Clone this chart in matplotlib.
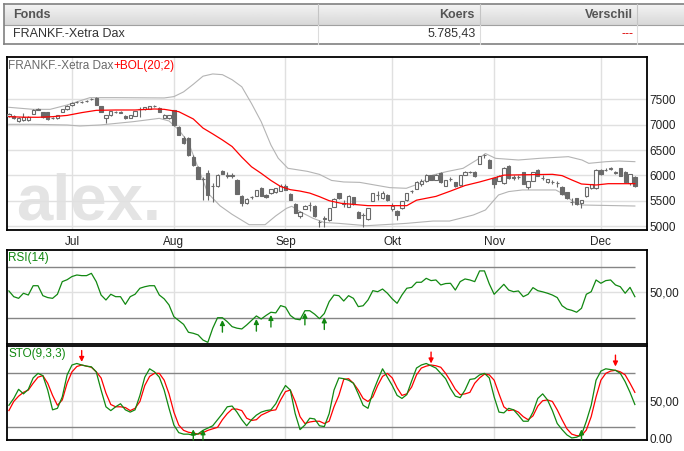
import numpy as np
import matplotlib.pyplot as plt

plt.rcParams['font.family'] = ['Liberation Sans', 'DejaVu Sans']

W, H = 684, 451

# trading day index: 0 = 14 Jun 2011 ... 129 = 12 Dec 2011
month_pos = [13, 34, 57, 79, 100, 122]
month_labels = ['Jul', 'Aug', 'Sep', 'Okt', 'Nov', 'Dec']
price_ticks = [5000, 5500, 6000, 6500, 7000, 7500]

# DAX daily candles
opens = [7165, 7173, 7075, 7090, 7095, 7215, 7300, 7245, 7245, 7135,
         7125, 7260, 7310, 7390, 7450, 7452, 7460, 7505, 7535, 7375,
         7125, 7190, 7255, 7242, 7180, 7135, 7180, 7305, 7310, 7315,
         7365, 7330, 7140, 7130, 7290, 6960, 6745, 6730, 6370, 6170,
         5920, 6050, 5790, 5790, 6094, 5990, 5990, 5910, 5600, 5455,
         5565, 5600, 5760, 5620, 5650, 5670, 5700, 5800, 5640, 5440,
         5200, 5340, 5410, 5400, 5075, 5145, 5119, 5382, 5646, 5440,
         5382, 5567, 5283, 5210, 5138, 5501, 5605, 5547, 5613, 5336,
         5296, 5349, 5514, 5685, 5738, 5837, 5883, 6001, 5916, 6048,
         5797, 5925, 5864, 5804, 6015, 6065, 6068, 6233, 6395, 6304,
         5942, 5890, 5843, 6192, 5950, 5970, 6061, 5777, 5890, 6107,
         5950, 5876, 5870, 5840, 5777, 5665, 5478, 5547, 5448, 5593,
         5745, 5745, 6107, 6100, 6135, 6055, 6140, 6074, 5850, 5975]
highs = [7225, 7185, 7150, 7225, 7170, 7310, 7325, 7260, 7255, 7160,
         7200, 7320, 7385, 7450, 7470, 7475, 7480, 7525, 7540, 7380,
         7195, 7280, 7275, 7265, 7195, 7200, 7275, 7345, 7360, 7375,
         7385, 7345, 7210, 7200, 7300, 6975, 6770, 6750, 6400, 6185,
         5960, 6100, 5850, 6030, 6110, 6070, 6050, 5930, 5620, 5560,
         5600, 5720, 5780, 5640, 5740, 5760, 5830, 5830, 5650, 5450,
         5290, 5420, 5480, 5420, 5110, 5190, 5360, 5545, 5660, 5514,
         5610, 5580, 5295, 5260, 5360, 5650, 5690, 5690, 5625, 5448,
         5310, 5500, 5660, 5720, 5880, 5930, 6025, 6010, 6025, 6060,
         5910, 5970, 5875, 6010, 6080, 6090, 6080, 6390, 6430, 6315,
         5955, 6005, 6165, 6205, 6000, 6010, 6075, 5890, 6075, 6120,
         6000, 5935, 5910, 5880, 5790, 5680, 5560, 5560, 5520, 5770,
         5830, 6120, 6120, 6140, 6170, 6090, 6150, 6085, 6030, 5985]
lows = [7150, 7110, 7060, 7075, 7080, 7205, 7285, 7140, 7100, 7115,
        7110, 7250, 7300, 7380, 7440, 7440, 7450, 7495, 7395, 7255,
        7030, 7180, 7240, 7230, 7120, 7125, 7170, 7150, 7300, 7305,
        7350, 7255, 7130, 7110, 6980, 6790, 6620, 6390, 6190, 5920,
        5515, 5515, 5480, 5780, 6020, 5940, 5940, 5630, 5400, 5440,
        5540, 5590, 5590, 5560, 5640, 5660, 5690, 5710, 5510, 5250,
        5160, 5330, 5290, 5180, 4990, 4990, 5100, 5370, 5530, 5382,
        5370, 5420, 5155, 4990, 5125, 5490, 5515, 5535, 5500, 5290,
        5119, 5335, 5500, 5650, 5725, 5800, 5870, 5905, 5905, 5855,
        5785, 5880, 5775, 5795, 6005, 6045, 5970, 6220, 6350, 6140,
        5760, 5880, 5830, 5930, 5900, 5930, 5820, 5740, 5880, 5985,
        5900, 5840, 5830, 5780, 5615, 5535, 5420, 5420, 5360, 5580,
        5730, 5735, 6010, 6080, 6110, 6030, 5985, 5860, 5810, 5780]
closes = [7207, 7127, 7140, 7155, 7160, 7292, 7310, 7160, 7115, 7140,
          7190, 7310, 7375, 7440, 7455, 7456, 7465, 7510, 7400, 7260,
          7190, 7270, 7262, 7250, 7127, 7190, 7265, 7315, 7355, 7370,
          7372, 7260, 7200, 7190, 7000, 6800, 6635, 6405, 6205, 5930,
          5935, 5620, 5800, 6015, 6028, 6015, 6010, 5640, 5460, 5530,
          5572, 5710, 5600, 5570, 5730, 5750, 5800, 5720, 5520, 5260,
          5270, 5400, 5415, 5190, 5080, 5150, 5349, 5534, 5547, 5450,
          5593, 5428, 5165, 5220, 5349, 5646, 5615, 5646, 5514, 5402,
          5217, 5494, 5646, 5695, 5870, 5883, 6015, 5916, 6015, 5864,
          5903, 5935, 5784, 6001, 6068, 6070, 5982, 6378, 6400, 6153,
          5830, 5996, 6153, 5942, 5960, 5975, 5830, 5883, 6061, 5995,
          5955, 5922, 5876, 5843, 5626, 5547, 5481, 5435, 5514, 5764,
          5823, 6107, 6021, 6107, 6140, 6061, 5995, 5876, 6021, 5785]

# Bollinger (20;2) middle and bands, read at selected days
ma_days = [0, 3, 6, 9, 12, 15, 18, 22, 26, 30, 32, 35, 38, 40, 42, 44, 46, 48,
           50, 52, 54, 56, 58, 60, 62, 64, 66, 68.5, 74, 82, 84, 88, 91, 94,
           97, 100, 102, 108, 112, 114, 116, 118, 121, 123.5, 129]
ma_vals = [7160, 7150, 7148, 7160, 7185, 7240, 7285, 7292, 7292, 7312, 7305,
           7259, 7115, 6935, 6820, 6700, 6570, 6360, 6170, 6040, 5900, 5780,
           5718, 5690, 5650, 5580, 5500, 5448, 5402, 5402, 5510, 5585, 5690,
           5800, 5870, 5950, 6005, 6015, 6021, 5995, 5910, 5830, 5810, 5836,
           5836]
upper_days = [0, 5, 8.5, 12, 16.7, 22, 32, 34, 36, 38, 40, 42, 44, 46, 48, 50,
              52, 54, 55.5, 57.5, 61.5, 64, 66.5, 69, 72.3, 78.5, 81.9, 84.7,
              87.4, 90.2, 93.6, 96.4, 98.2, 100.3, 105, 109.4, 115.3, 118.1,
              119.5, 123.1, 125.7, 129]
upper_vals = [7345, 7305, 7305, 7391, 7536, 7536, 7530, 7556, 7650, 7800,
              7960, 8004, 7990, 7890, 7750, 7420, 7060, 6600, 6340, 6140,
              6080, 6020, 5900, 5870, 5862, 5758, 5745, 5843, 6008, 6074,
              6140, 6304, 6432, 6337, 6304, 6337, 6370, 6304, 6238, 6271,
              6284, 6271]
lower_days = [0, 5, 12, 14.6, 18.8, 25.6, 31, 33, 35, 37, 39, 41, 43.5, 46,
              49.5, 52.8, 55, 57.2, 58.3, 60, 62.7, 65, 68, 73.7, 81.9, 87.4,
              90.8, 95.7, 98.2, 100.9, 103, 105.8, 112.7, 114, 116.8, 118.1,
              129]
lower_vals = [7009, 7009, 6996, 6976, 6996, 7061, 7127, 7075, 6900, 6650,
              6150, 5650, 5400, 5230, 5026, 5026, 5200, 5349, 5390, 5283,
              5151, 5070, 5052, 5006, 5052, 5098, 5098, 5217, 5316, 5613,
              5680, 5712, 5712, 5645, 5448, 5415, 5395]

# RSI(14), one value per day
rsi = [51.2, 46.7, 45.4, 49.4, 48.0, 55.3, 55.3, 47.5, 46.0, 45.4,
       48.6, 58.5, 60.0, 62.5, 63.7, 63.2, 63.2, 65.0, 58.5, 48.0,
       44.1, 48.6, 46.7, 46.7, 40.7, 46.7, 48.6, 53.3, 54.5, 55.3,
       55.3, 48.0, 45.0, 40.2, 31.0, 28.0, 25.0, 18.8, 18.0, 16.7,
       12.7, 10.9, 21.9, 30.2, 30.2, 27.1, 23.2, 22.0, 21.4, 24.5,
       28.0, 31.6, 29.2, 32.0, 34.5, 34.0, 39.7, 38.5, 32.0, 29.2,
       28.6, 35.7, 35.7, 33.0, 29.5, 33.5, 42.8, 48.0, 47.5, 43.3,
       47.5, 45.4, 38.9, 39.6, 44.1, 51.4, 50.6, 52.7, 49.4, 45.0,
       41.5, 48.0, 53.3, 54.0, 58.0, 58.0, 61.1, 59.3, 59.8, 55.9,
       57.0, 57.2, 51.9, 58.5, 60.6, 59.8, 58.5, 66.9, 66.9, 56.7,
       48.6, 52.5, 56.4, 51.9, 50.6, 51.2, 46.7, 48.6, 53.8, 51.4,
       50.5, 49.4, 48.0, 46.0, 39.6, 37.0, 36.0, 34.5, 37.6, 48.6,
       50.6, 59.8, 57.2, 59.3, 59.8, 55.9, 54.5, 49.4, 54.0, 46.7]
rsi_buy_days = [44, 51, 54, 61, 65]
rsi_buy_tips = [28.4, 29.2, 32.4, 34.1, 30.5]

# STO(9,3,3): %K (green) and %D (red)
sto_k = [44, 53, 65, 59, 65, 80, 86, 83, 64, 38,
         40, 55, 84, 97, 99, 97, 95.5, 94.6, 88, 64,
         42, 37, 42, 46, 38, 35, 38, 57, 81, 92,
         88, 81, 64, 40, 18, 8, 6, 6, 4.5, 6.5,
         11, 14, 17, 25, 33, 42, 43, 35, 25, 17,
         25, 31, 35, 37, 38, 46, 59, 70, 64, 33,
         12, 18, 27, 26, 17, 16, 33, 64, 80, 79,
         77, 73, 59, 44, 40, 61, 77, 92, 81, 70,
         57, 53, 58, 76, 93, 97, 99, 96, 93, 86,
         79, 66, 56, 54, 64, 78, 79, 84, 86, 80,
         55, 35, 34, 40, 38, 31, 23, 23, 35, 53,
         59, 51, 37, 20, 12, 5, 1, 2, 5, 23,
         44, 77, 89, 92, 91, 90, 86, 75, 61, 45]
sto_d = [37, 49, 56, 61, 64, 73, 81, 83, 73, 57,
         44, 51, 73, 88, 95, 97, 95.5, 94, 88, 80,
         60, 45, 42, 42, 41, 37, 40, 49, 70, 82,
         86, 86, 77, 59, 35, 18, 11, 8.5, 7.5, 6,
         8, 11, 13, 15, 25, 33, 39, 39, 37, 27,
         24, 25, 31, 34, 37, 38, 51, 62, 64, 49,
         29, 20, 22, 23, 23, 20, 23, 42, 57, 78,
         79, 73, 64, 53, 49, 55, 70, 82, 86, 80,
         67, 57, 59, 68, 84, 93, 95.5, 97, 96, 94,
         86, 76, 65, 58, 59, 61, 73, 80, 85, 84,
         77, 59, 42, 37, 38, 35, 29, 25, 30, 43,
         50, 51, 49, 38, 25, 13, 6, 4, 4, 11.5,
         29, 55, 77, 86, 89, 90, 88, 84, 73, 61]
sto_sell_days = [15, 87, 125]
sto_sell_tips = [101, 99, 95]
sto_buy_days = [38, 40, 118]
sto_buy_tips = [12.4, 12.4, 12.4]

CANDLE = '#6a6a6a'
GRID = '#e0e0e0'
GREEN = '#118811'
LEVEL = '#858585'

fig = plt.figure(figsize=(W / 100, H / 100), dpi=100)


def px_axes(left, top, right, bottom):
    return fig.add_axes([left / W, 1 - bottom / H, (right - left) / W, (bottom - top) / H])


# ---- table on top ----
bg = px_axes(0, 0, W, H)
bg.set_xlim(0, W)
bg.set_ylim(H, 0)
bg.axis('off')
grad = np.linspace(0, 1, 50).reshape(-1, 1)
bg.imshow(grad, cmap=plt.matplotlib.colors.LinearSegmentedColormap.from_list('hdr', ['#f4f4f4', '#d8d8d8']),
          extent=(4, W + 2, 25, 4), aspect='auto', zorder=0)
bg.plot([4, W + 2], [4, 4], color='#808080', lw=1.2)
bg.plot([4, W + 2], [25, 25], color='#a0a0a0', lw=0.8)
bg.plot([4, W + 2], [43.5, 43.5], color='#808080', lw=1.2)
bg.plot([4, 4], [4, 43.5], color='#808080', lw=1.2)
for xc in [318, 480, 637]:
    bg.plot([xc, xc], [4, 25], color='#c4c4c4', lw=0.8)
    bg.plot([xc, xc], [25, 43.5], color='#dcdcdc', lw=0.8)
narrow = ['Liberation Sans Narrow', 'Liberation Sans', 'DejaVu Sans']
bg.text(13, 15, 'Fonds', family=narrow, weight='bold', fontsize=9, color='#555555', va='center')
bg.text(475, 15, 'Koers', family=narrow, weight='bold', fontsize=9, color='#555555', va='center', ha='right')
bg.text(633, 15, 'Verschil', family=narrow, weight='bold', fontsize=9, color='#555555', va='center', ha='right')
bg.text(13, 34, 'FRANKF.-Xetra Dax', family=narrow, fontsize=9, color='#333333', va='center')
bg.text(476, 34, '5.785,43', family=narrow, fontsize=9, color='#333333', va='center', ha='right')
bg.text(633, 34, '---', family=narrow, fontsize=9, color='#dd0000', va='center', ha='right')

xlim = (-0.39, 131.5)
last_day = len(closes) - 1


def style_panel(ax):
    ax.set_xlim(*xlim)
    ax.set_xticks(month_pos)
    ax.grid(True, color=GRID, lw=1.0)
    ax.set_axisbelow(True)
    ax.yaxis.tick_right()
    ax.tick_params(length=0, labelsize=8.5, colors='#222222', pad=2)
    for s in ax.spines.values():
        s.set_color('black')
        s.set_linewidth(1.3)


# ---- price panel ----
ax = px_axes(7, 57, 647, 230)
style_panel(ax)
ax.set_ylim(4921, 8339)
ax.set_yticks(price_ticks)
ax.set_yticklabels([str(t) for t in price_ticks])
ax.set_xticklabels(month_labels)
ax.tick_params(axis='x', pad=4)

ax.text(0.015, 0.058, 'alex.', transform=ax.transAxes, fontsize=47, weight='bold',
        color='#e4e4e4', va='baseline', ha='left', zorder=0.5)

days = np.arange(len(closes))
o = np.array(opens)
c = np.array(closes)
ax.vlines(days, lows, highs, color=CANDLE, lw=0.8, zorder=2)
up = c >= o
body = np.where(np.abs(c - o) < 1, 1, c - o)
ax.bar(days[up], body[up], bottom=o[up], width=0.68, facecolor='white',
       edgecolor=CANDLE, lw=0.8, zorder=3)
ax.bar(days[~up], body[~up], bottom=o[~up], width=0.68, facecolor=CANDLE,
       edgecolor=CANDLE, lw=0.8, zorder=3)

ax.plot(upper_days, upper_vals, color='#b4b4b4', lw=0.8, zorder=1.5)
ax.plot(lower_days, lower_vals, color='#b4b4b4', lw=0.8, zorder=1.5)
ax.plot(ma_days, ma_vals, color='#ff0000', lw=0.9, zorder=4)

t1 = ax.text(0.002, 0.948, 'FRANKF.-Xetra Dax', transform=ax.transAxes, fontsize=8.5,
             color='#6a6a6a', va='center', ha='left')
ax.annotate('+BOL(20;2)', xy=(1, 0), xycoords=t1, fontsize=8.5, color='#ff0000',
            va='bottom', ha='left')

# ---- RSI panel ----
ax_rsi = px_axes(7, 250, 647, 344)
style_panel(ax_rsi)
ax_rsi.set_ylim(9.6, 83.3)
ax_rsi.set_yticks([50])
ax_rsi.set_yticklabels(['50,00'])
ax_rsi.set_xticklabels([])
ax_rsi.hlines([70, 30], xlim[0], last_day, color=LEVEL, lw=1.0, zorder=1)
ax_rsi.plot(days, rsi, color=GREEN, lw=0.9, zorder=3)
for d, tip in zip(rsi_buy_days, rsi_buy_tips):
    ax_rsi.annotate('', xy=(d, tip), xytext=(d, tip - 9.5),
                    arrowprops=dict(arrowstyle='-|>', color=GREEN, lw=1.0,
                                    mutation_scale=7, shrinkA=0, shrinkB=0), zorder=4)
ax_rsi.text(0.002, 0.915, 'RSI(14)', transform=ax_rsi.transAxes, fontsize=8.5,
            color=GREEN, va='center', ha='left')

# ---- Stochastic panel ----
ax_sto = px_axes(7, 346, 647, 440)
style_panel(ax_sto)
ax_sto.set_ylim(-1.7, 122)
ax_sto.set_yticks([50, 0])
ax_sto.set_yticklabels(['50,00', '0.00'])
ax_sto.set_xticklabels([])
ax_sto.hlines([87, 15], xlim[0], last_day, color=LEVEL, lw=1.0, zorder=1)
ax_sto.plot(days, sto_d, color='#ff0000', lw=0.9, zorder=3)
ax_sto.plot(days, sto_k, color=GREEN, lw=0.9, zorder=3)
for d, tip in zip(sto_sell_days, sto_sell_tips):
    ax_sto.annotate('', xy=(d, tip), xytext=(d, tip + 15),
                    arrowprops=dict(arrowstyle='-|>', color='#ff0000', lw=1.0,
                                    mutation_scale=7, shrinkA=0, shrinkB=0), zorder=4)
for d, tip in zip(sto_buy_days, sto_buy_tips):
    ax_sto.annotate('', xy=(d, tip), xytext=(d, -1.7),
                    arrowprops=dict(arrowstyle='-|>', color=GREEN, lw=1.0,
                                    mutation_scale=7, shrinkA=0, shrinkB=0), zorder=4)
ax_sto.text(0.002, 0.915, 'STO(9,3,3)', transform=ax_sto.transAxes, fontsize=8.5,
            color=GREEN, va='center', ha='left')

fig.savefig('out.png', dpi=100, facecolor='white')
